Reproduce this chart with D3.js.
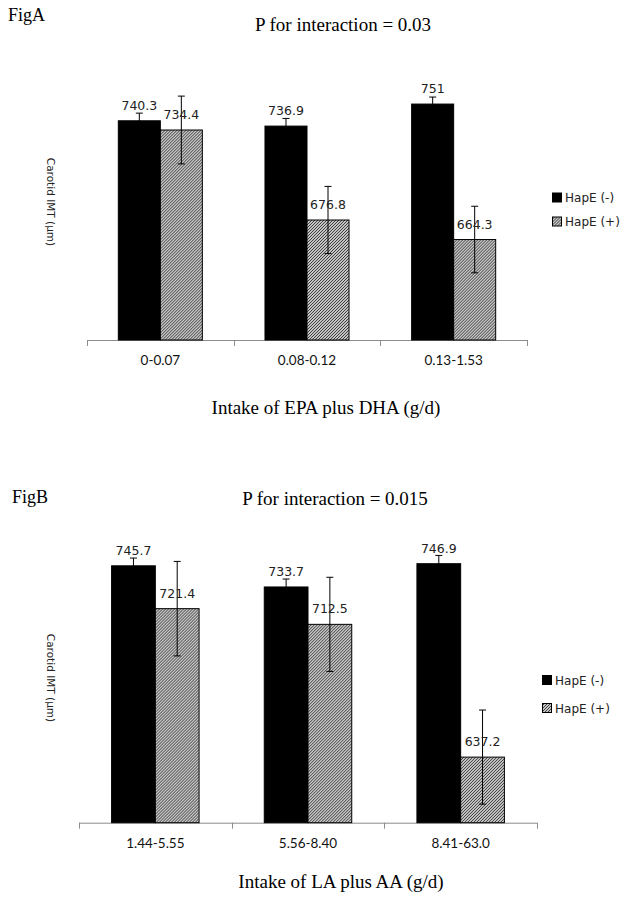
<!DOCTYPE html>
<html>
<head>
<meta charset="utf-8">
<script src="https://cdn.jsdelivr.net/npm/d3@7"></script>
<style>
  html, body { margin: 0; padding: 0; background: #fff; }
  svg { display: block; }
</style>
</head>
<body>
<svg id="chart" width="624" height="898"></svg>
<script>
// ---------------- DATA ----------------
const seriesNames = ["HapE (-)", "HapE (+)"];

const categoriesA = ["0-0.07", "0.08-0.12", "0.13-1.53"];
const hapeMinusA = [740.3, 736.9, 751];
const hapePlusA = [734.4, 676.8, 664.3];
const errMinusA = [4.9, 4.9, 4.5];
const errPlusA = [21.7, 21.5, 21.3];

const categoriesB = ["1.44-5.55", "5.56-8.40", "8.41-63.0"];
const hapeMinusB = [745.7, 733.7, 746.9];
const hapePlusB = [721.4, 712.5, 637.2];
const errMinusB = [4.4, 4.5, 4.7];
const errPlusB = [26.8, 26.7, 26.7];

const yDomain = [600, 760];

// ---------------- DRAW ----------------
const svg = d3.select("#chart");
const defs = svg.append("defs");
const PS = 3;
const pat = defs.append("pattern")
  .attr("id", "hatch")
  .attr("patternUnits", "userSpaceOnUse")
  .attr("width", PS).attr("height", PS);
pat.append("rect").attr("width", PS).attr("height", PS).attr("fill", "#fff");
pat.append("path")
  .attr("d", `M-1,1L1,-1M0,${PS}L${PS},0M${PS - 1},${PS + 1}L${PS + 1},${PS - 1}`)
  .attr("stroke", "#333").attr("stroke-width", 1.1);

const fills = ["#000", "url(#hatch)"];
const serif = "'Liberation Serif', 'Times New Roman', serif";

function drawChart(cfg) {
  const g = svg.append("g");
  const n = cfg.categories.length;
  const p = 0.427;
  const x = d3.scaleBand().domain(cfg.categories)
    .range([cfg.x0, cfg.x1]).paddingInner(p).paddingOuter(p / 2);
  const xs = d3.scaleBand().domain(seriesNames).range([0, x.bandwidth()]);
  const y = d3.scaleLinear().domain(yDomain).range([cfg.base, cfg.top]);

  const rows = cfg.categories.map((c, i) => ({
    cat: c,
    vals: [
      { s: seriesNames[0], v: cfg.minus[i], e: cfg.errMinus[i], k: 0 },
      { s: seriesNames[1], v: cfg.plus[i], e: cfg.errPlus[i], k: 1 }
    ]
  }));

  // Axis line + ticks at category boundaries
  const axis = d3.axisBottom(x).tickSize(0).tickFormat("");
  const ax = g.append("g").attr("transform", `translate(0,${cfg.base})`).call(axis);
  ax.select(".domain").attr("stroke", "#8c8c8c").attr("stroke-width", 1)
    .attr("d", `M${cfg.x0},0.5H${cfg.x1}`);
  const step = x.step();
  d3.range(n + 1).forEach(i => {
    const tx = Math.round(cfg.x0 + i * step) + 0.5;
    ax.append("line").attr("x1", tx).attr("x2", tx).attr("y1", 0).attr("y2", 6)
      .attr("stroke", "#8c8c8c").attr("stroke-width", 1);
  });

  // Category labels
  g.selectAll(".cl").data(cfg.categories).join("text")
    .attr("x", d => x(d) + x.bandwidth() / 2)
    .attr("y", cfg.base + 25)
    .attr("text-anchor", "middle")
    .attr("font-family", "Lato, 'Liberation Sans', sans-serif")
    .attr("font-size", 13.5)
    .attr("fill", "#111")
    .text(d => d);

  const grp = g.selectAll(".grp").data(rows).join("g")
    .attr("transform", d => `translate(${x(d.cat)},0)`);

  grp.selectAll("rect").data(d => d.vals).join("rect")
    .attr("x", d => xs(d.s))
    .attr("y", d => y(d.v))
    .attr("width", xs.bandwidth())
    .attr("height", d => y(yDomain[0]) - y(d.v))
    .attr("fill", d => fills[d.k])
    .attr("stroke", "#000")
    .attr("stroke-width", 1);

  // Error bars
  const cap = 3.5;
  grp.selectAll("path.err").data(d => d.vals).join("path")
    .attr("class", "err")
    .attr("d", d => {
      const cx = xs(d.s) + xs.bandwidth() / 2;
      const t = y(d.v + d.e), b = y(d.v - d.e);
      return `M${cx},${t}V${b}M${cx - cap},${t}H${cx + cap}M${cx - cap},${b}H${cx + cap}`;
    })
    .attr("stroke", "#000")
    .attr("stroke-width", 1)
    .attr("fill", "none");

  // Value labels
  grp.selectAll("text.vl").data(d => d.vals).join("text")
    .attr("class", "vl")
    .attr("x", d => xs(d.s) + xs.bandwidth() / 2)
    .attr("y", d => y(d.v) - 11)
    .attr("text-anchor", "middle")
    .attr("font-family", "'DejaVu Sans', sans-serif")
    .attr("font-size", 12.5)
    .attr("fill", "#222")
    .text(d => String(d.v));

  // Y title
  g.append("text")
    .attr("transform", `translate(${cfg.yTitleX},${cfg.yTitleY}) rotate(90)`)
    .attr("text-anchor", "middle")
    .attr("font-family", "'DejaVu Sans', sans-serif")
    .attr("font-size", 10.5)
    .attr("fill", "#222")
    .text("Carotid IMT (\u03bcm)");

  // Legend
  const lg = g.append("g").attr("transform", `translate(${cfg.legX},${cfg.legY})`);
  seriesNames.forEach((s, i) => {
    const e = lg.append("g").attr("transform", `translate(0,${i * cfg.legGap})`);
    e.append("rect").attr("x", 0.5).attr("y", 0.5).attr("width", 9).attr("height", 9)
      .attr("fill", fills[i]).attr("stroke", "#000").attr("stroke-width", 1);
    e.append("text").attr("x", 13).attr("y", 9.5)
      .attr("font-family", "'DejaVu Sans', sans-serif")
      .attr("font-size", 12).attr("fill", "#222").text(s);
  });

  // Titles
  g.append("text").attr("x", cfg.figX).attr("y", cfg.figY)
    .attr("font-family", serif)
    .attr("font-size", 18).attr("fill", "#000").text(cfg.figLabel);
  g.append("text").attr("x", cfg.titleX).attr("y", cfg.titleY)
    .attr("text-anchor", "middle")
    .attr("font-family", serif)
    .attr("font-size", 19).attr("fill", "#000").text(cfg.title);
  g.append("text").attr("x", cfg.xTitleX).attr("y", cfg.xTitleY)
    .attr("text-anchor", "middle")
    .attr("font-family", serif)
    .attr("font-size", 19).attr("fill", "#000").text(cfg.xTitle);
}

drawChart({
  categories: categoriesA, minus: hapeMinusA, plus: hapePlusA,
  errMinus: errMinusA, errPlus: errPlusA,
  x0: 87, x1: 527, base: 340, top: 90,
  yTitleX: 47, yTitleY: 202,
  legX: 552, legY: 192.5, legGap: 24,
  figLabel: "FigA", figX: 8, figY: 21,
  title: "P for interaction = 0.03", titleX: 343, titleY: 31,
  xTitle: "Intake of EPA plus DHA (g/d)", xTitleX: 326, xTitleY: 414
});

drawChart({
  categories: categoriesB, minus: hapeMinusB, plus: hapePlusB,
  errMinus: errMinusB, errPlus: errPlusB,
  x0: 79, x1: 537, base: 822.7, top: 540.6,
  yTitleX: 47, yTitleY: 678,
  legX: 542, legY: 675, legGap: 28,
  figLabel: "FigB", figX: 12, figY: 503,
  title: "P for interaction = 0.015", titleX: 335, titleY: 505,
  xTitle: "Intake of LA plus AA (g/d)", xTitleX: 341, xTitleY: 888
});
</script>
</body>
</html>
